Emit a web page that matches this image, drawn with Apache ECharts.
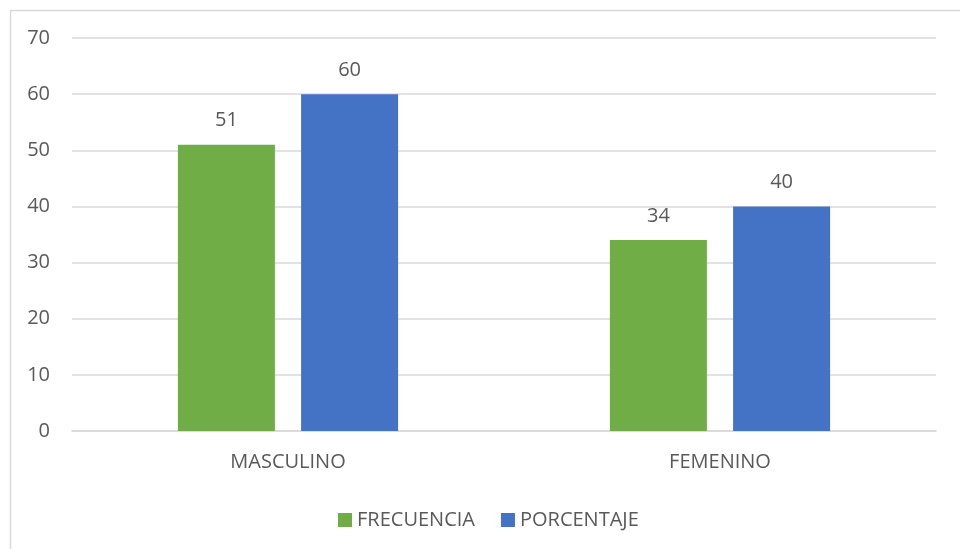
<!DOCTYPE html>
<html>
<head>
<meta charset="utf-8">
<script src="https://cdn.jsdelivr.net/npm/echarts@6/dist/echarts.min.js"></script>
<style>
  html, body { margin: 0; padding: 0; background: #fff; }
  #chart { width: 960px; height: 549px; }
</style>
</head>
<body>
<div id="chart"></div>
<script>
// Categories and series values
const categories = ['MASCULINO', 'FEMENINO'];
const frecuencia = [51, 34];
const porcentaje = [60, 40];
const seriesNames = ['FRECUENCIA', 'PORCENTAJE'];

const textColor = '#595959';
const font = '"Open Sans", "Noto Sans", sans-serif';
const fontSize = 20;

const chart = echarts.init(document.getElementById('chart'));

const labelStyle = {
  show: true,
  position: 'top',
  distance: 14,
  color: textColor,
  fontSize: fontSize,
  fontFamily: font
};

chart.setOption({
  animation: false,
  backgroundColor: '#ffffff',
  graphic: [{
    type: 'rect',
    left: 8,
    top: 8,
    shape: { width: 980, height: 560 },
    style: { fill: 'none', stroke: '#d9d9d9', lineWidth: 1.5 },
    silent: true,
    z: -1
  }],
  grid: { left: 72, right: 24, top: 38, bottom: 118 },
  legend: {
    data: seriesNames,
    left: 333,
    top: 505,
    itemWidth: 14,
    itemHeight: 14,
    itemGap: 26,
    itemTextGap: 6,
    icon: 'rect',
    textStyle: { color: textColor, fontSize: fontSize, fontFamily: font }
  },
  xAxis: {
    type: 'category',
    data: categories,
    axisLine: { show: true, lineStyle: { color: '#d9d9d9', width: 1.5 } },
    axisTick: { show: false },
    axisLabel: { color: textColor, fontSize: fontSize, fontFamily: font, margin: 21 }
  },
  yAxis: {
    type: 'value',
    min: 0,
    max: 70,
    interval: 10,
    axisLine: { show: false },
    axisTick: { show: false },
    splitLine: { lineStyle: { color: '#d9d9d9', width: 1.5 } },
    axisLabel: { color: textColor, fontSize: fontSize, fontFamily: font, margin: 22 }
  },
  series: [
    {
      name: seriesNames[0],
      type: 'bar',
      data: frecuencia,
      barWidth: 97,
      barGap: '27%',
      itemStyle: { color: '#70AD47' },
      label: labelStyle
    },
    {
      name: seriesNames[1],
      type: 'bar',
      data: porcentaje,
      barWidth: 97,
      barGap: '27%',
      itemStyle: { color: '#4472C4' },
      label: labelStyle
    }
  ]
});
</script>
</body>
</html>
